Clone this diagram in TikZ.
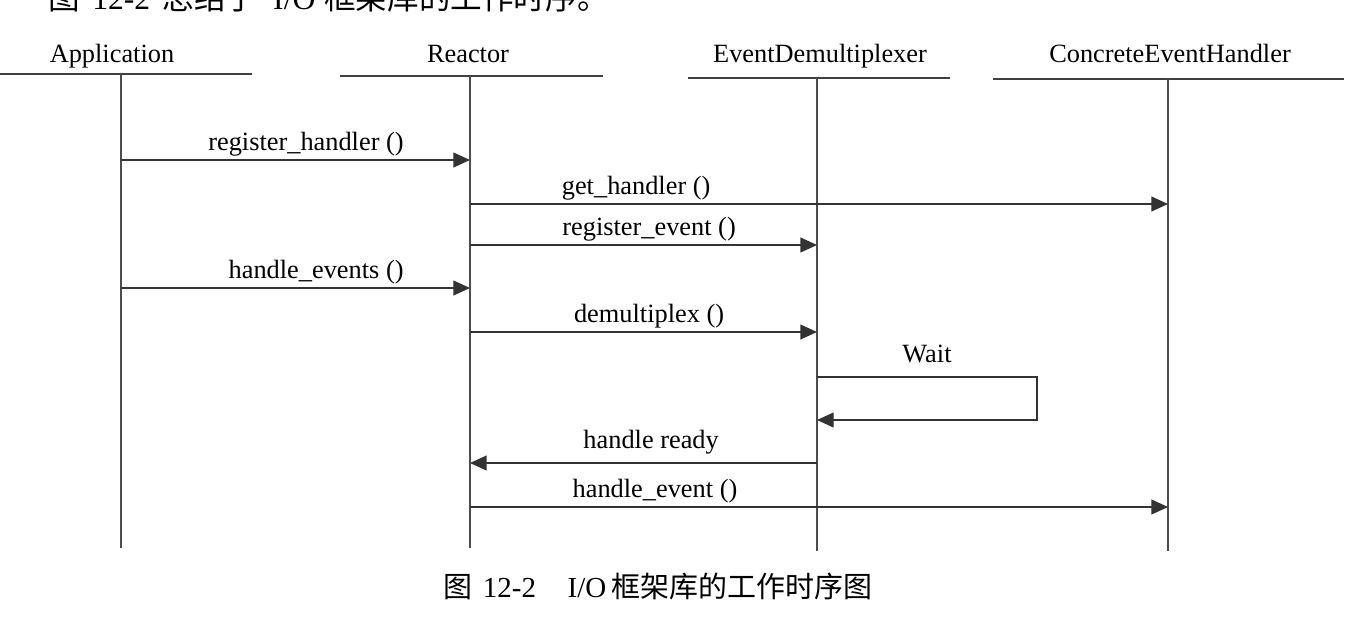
\documentclass[tikz,border=0pt]{standalone}
\usepackage{fontspec}
\setmainfont{Liberation Serif}
\newfontfamily\cjk{Noto Sans CJK SC}
\usetikzlibrary{arrows.meta,positioning}

\tikzset{
  life/.style={draw=black!70, line width=0.8pt},
  headline/.style={draw=black!75, line width=1.1pt},
  msg/.style={draw=black!80, line width=0.8pt, -{Triangle[length=9.5pt,width=8.5pt]}},
  lbl/.style={anchor=base, yshift=5.5pt, inner sep=0pt, font=\fontsize{15}{18}\selectfont},
  head/.style={anchor=base, inner sep=0pt, font=\fontsize{15}{18}\selectfont}
}

\begin{document}
\begin{tikzpicture}[x=0.02cm, y=-0.02cm]
        \useasboundingbox (0,0) rectangle (1358,626);
        \clip (0,0) rectangle (1358,626);
        % Draw the text line cut off at the top
        \node[anchor=base west, inner sep=0pt, font=\fontsize{18}{20}\selectfont] (intro) at (48,9)
        {{\cjk 图}\hspace{7pt}12-2\hspace{7pt}{\cjk 总结了}\hspace{9pt}I/O\hspace{5pt}{\cjk 框架库的工作时序。}};
        % Draw the names
        \node[head] (appname) at (112,62) {Application};
        \node[head] (reaname) at (468,62) {Reactor};
        \node[head] (demname) at (820,62) {EventDemultiplexer};
        \node[head] (cehname) at (1170,62) {ConcreteEventHandler};
        % Draw the lines under the names
        \foreach \n/\l/\rr/\y in {app/0/252/74, rea/340/603/76, dem/688/950/78, ceh/993/1344/79}
        \draw[headline] (\l,\y) coordinate (\n-left) -- (\rr,\y) coordinate (\n-right);
        % Draw the life lines
        \foreach \n/\x/\t/\b in {app/121/74/548, rea/470/76/548, dem/817/78/551, ceh/1168/79/551}
        {
          \coordinate (\n-top) at (\x,\t);
          \coordinate (\n-bot) at (\x,\b);
          \draw[life] (\n-top) -- (\n-bot);
        }
        % Rows of the messages
        \foreach \rowname/\rowy in {reg/160, get/204, rev/245, hev/288, dmx/332, wtop/377, wbot/420, rdy/463, hnd/507}
        \coordinate (\rowname) at (0,\rowy);
        \coordinate (wturn) at (1037,377);
        % Draw the messages
        \draw[msg] (app-top |- reg) -- node[lbl, pos=0.53] {register\_handler ()} (rea-top |- reg);
        \draw[msg] (rea-top |- get) -- node[lbl, pos=0.238] {get\_handler ()} (ceh-top |- get);
        \draw[msg] (rea-top |- rev) -- node[lbl, pos=0.516] {register\_event ()} (dem-top |- rev);
        \draw[msg] (app-top |- hev) -- node[lbl, pos=0.559] {handle\_events ()} (rea-top |- hev);
        \draw[msg] (rea-top |- dmx) -- node[lbl, pos=0.516] {demultiplex ()} (dem-top |- dmx);
        \draw[msg] (dem-top |- wtop) -- node[lbl, yshift=2.5pt] {Wait} (wturn) |- (dem-top |- wbot);
        \draw[msg] (dem-top |- rdy) -- node[lbl, pos=0.478, yshift=3pt] {handle ready} (rea-top |- rdy);
        \draw[msg] (rea-top |- hnd) -- node[lbl, pos=0.265] {handle\_event ()} (ceh-top |- hnd);
        % Draw the caption
        \node[anchor=base west, inner sep=0pt, font=\fontsize{16.5}{18}\selectfont] (caption) at (443,597)
        {{\cjk 图}\hspace{6pt}12-2\hspace{18pt}I/O\hspace{3pt}{\cjk 框架库的工作时序图}};
\end{tikzpicture}
\end{document}
